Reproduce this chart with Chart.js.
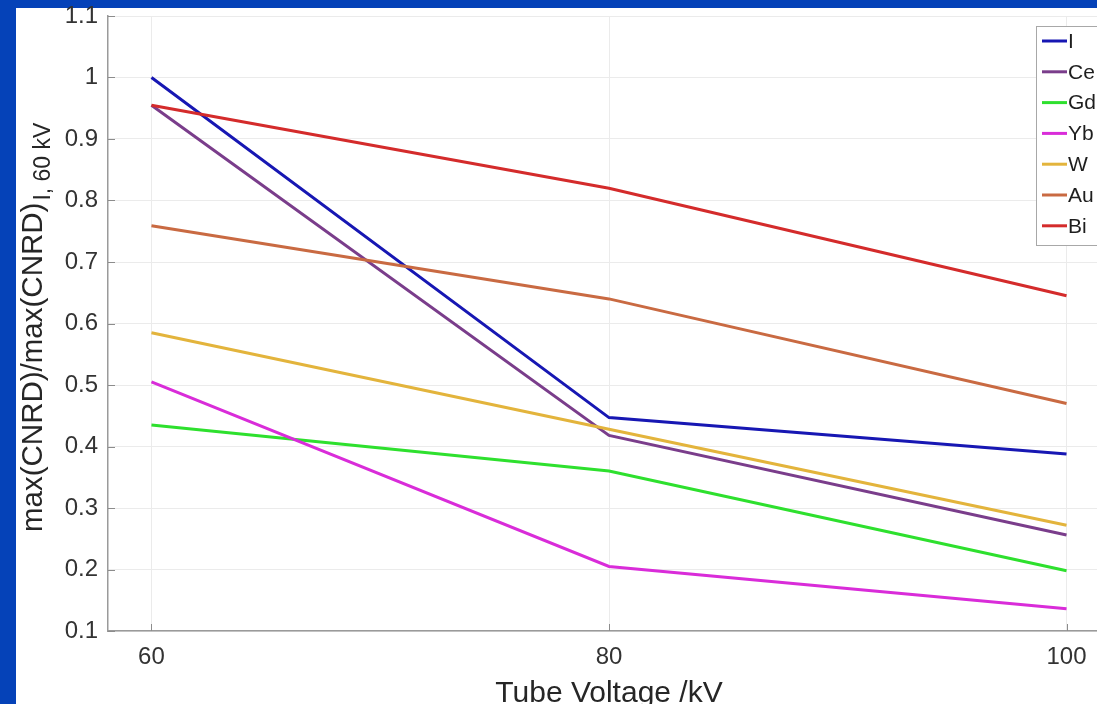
<!DOCTYPE html>
<html>
<head>
<meta charset="utf-8">
<script src="https://cdn.jsdelivr.net/npm/chart.js@4.4.1/dist/chart.umd.min.js"></script>
<style>
  html, body { margin: 0; padding: 0; overflow: hidden; }
  body { background: #0542b8; width: 1097px; height: 704px; position: relative; }
  #paper { position: absolute; left: 16px; top: 8px; width: 1200px; height: 720px; background: #fff; }
  #wrap { position: absolute; left: 0; top: 0; width: 1180px; height: 704px; }
</style>
</head>
<body>
<div id="paper"></div>
<div id="wrap"><canvas id="chart"></canvas></div>
<script>
// tube voltage in kV
const voltages = [60, 80, 100];
const xTicks = [60, 80, 100];

// max(CNRD) normalised to iodine at 60 kV
const iodine     = [1.000, 0.447, 0.388];
const cerium     = [0.955, 0.418, 0.256];
const gadolinium = [0.435, 0.360, 0.198];
const ytterbium  = [0.505, 0.205, 0.136];
const tungsten   = [0.585, 0.428, 0.272];
const gold       = [0.759, 0.640, 0.470];
const bismuth    = [0.955, 0.820, 0.645];

const labels = ['I', 'Ce', 'Gd', 'Yb', 'W', 'Au', 'Bi'];
const series = [iodine, cerium, gadolinium, ytterbium, tungsten, gold, bismuth];
const colors = ['#1717b3', '#7a3d8b', '#2ee02e', '#d92cd9', '#e3b43c', '#c96a42', '#d42b2b'];

const FONT = '"Liberation Sans", Arial, Helvetica, sans-serif';

const datasets = series.map((vals, i) => ({
    label: labels[i],
    data: vals.map((v, j) => ({x: voltages[j], y: v})),
    borderColor: colors[i],
    backgroundColor: colors[i],
    borderWidth: 3,
    pointRadius: 0,
    tension: 0,
    order: series.length - i   // later series drawn on top, like matlab
}));

// axis titles, inward tick marks and legend box
const extras = {
    id: 'extras',
    afterDraw(chart) {
        const ctx = chart.ctx;
        const area = chart.chartArea;
        const xs = chart.scales.x, ys = chart.scales.y;
        ctx.save();

        // little inward ticks
        ctx.strokeStyle = '#8c8c8c';
        ctx.lineWidth = 1;
        ys.ticks.forEach(t => {
            const py = Math.round(ys.getPixelForValue(t.value)) + 0.5;
            ctx.beginPath(); ctx.moveTo(area.left, py); ctx.lineTo(area.left + 7, py); ctx.stroke();
        });
        xs.ticks.forEach(t => {
            const px = Math.round(xs.getPixelForValue(t.value)) + 0.5;
            ctx.beginPath(); ctx.moveTo(px, area.bottom); ctx.lineTo(px, area.bottom - 7); ctx.stroke();
        });

        // x title
        ctx.fillStyle = '#262626';
        ctx.font = '30px ' + FONT;
        ctx.textAlign = 'center';
        ctx.textBaseline = 'alphabetic';
        ctx.fillText('Tube Voltage /kV', xs.getPixelForValue(80), 702);

        // y title with subscript
        ctx.save();
        ctx.translate(42, 532);
        ctx.rotate(-Math.PI / 2);
        ctx.textAlign = 'left';
        ctx.font = '29.5px ' + FONT;
        const main = 'max(CNRD)/max(CNRD)';
        ctx.fillText(main, 0, 0);
        const w = ctx.measureText(main).width;
        ctx.font = '23px ' + FONT;
        ctx.fillText('I, 60 kV', w + 2, 8);
        ctx.restore();

        // legend
        const lx = 1036, ly = 26, lh = 219;
        ctx.fillStyle = '#fff';
        ctx.fillRect(lx, ly, 200, lh);
        ctx.strokeStyle = '#a8a8a8';
        ctx.lineWidth = 1;
        ctx.strokeRect(lx + 0.5, ly + 0.5, 200, lh);
        ctx.font = '21px ' + FONT;
        ctx.textAlign = 'left';
        ctx.textBaseline = 'middle';
        chart.data.datasets.forEach((ds, i) => {
            const cy = 41 + i * 30.8;
            ctx.strokeStyle = ds.borderColor;
            ctx.lineWidth = 3;
            ctx.beginPath(); ctx.moveTo(lx + 6, cy); ctx.lineTo(lx + 31, cy); ctx.stroke();
            ctx.fillStyle = '#1e1e1e';
            ctx.fillText(ds.label, lx + 32, cy + 1);
        });
        ctx.restore();
    }
};

new Chart(document.getElementById('chart'), {
    type: 'line',
    data: { datasets: datasets },
    options: {
        responsive: true,
        maintainAspectRatio: false,
        animation: false,
        layout: { padding: { left: 0, right: 70, top: 16, bottom: 0 } },
        plugins: { legend: { display: false }, tooltip: { enabled: false } },
        scales: {
            x: {
                type: 'linear',
                min: 58.1,
                max: 101.9,
                afterBuildTicks: s => { s.ticks = xTicks.map(v => ({value: v})); },
                afterFit: s => { s.height = 73; s.paddingLeft = 0; s.paddingRight = 0; },
                grid: { color: '#ebebeb', lineWidth: 1, drawTicks: false },
                border: { color: '#9a9a9a', width: 1.5 },
                ticks: { color: '#333', font: { family: FONT, size: 24 }, padding: 12, maxRotation: 0 }
            },
            y: {
                min: 0.1,
                max: 1.1,
                afterFit: s => { s.width = 108; s.paddingTop = 0; s.paddingBottom = 0; },
                grid: { color: '#ebebeb', lineWidth: 1, drawTicks: false },
                border: { color: '#9a9a9a', width: 1.5 },
                ticks: {
                    stepSize: 0.1,
                    color: '#333',
                    font: { family: FONT, size: 24 },
                    padding: 10,
                    callback: v => String(+v.toFixed(1))
                }
            }
        }
    },
    plugins: [extras]
});
</script>
</body>
</html>
